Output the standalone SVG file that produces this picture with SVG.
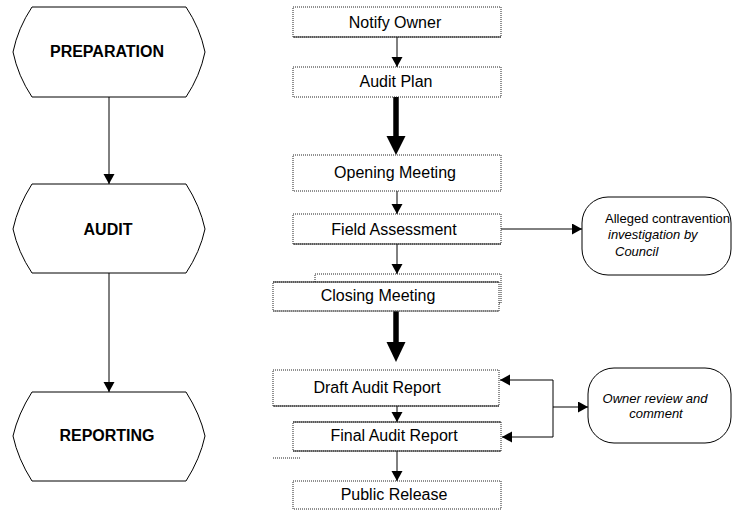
<svg xmlns="http://www.w3.org/2000/svg" width="734" height="510" viewBox="0 0 734 510">
<style>
.hex{fill:#fff;stroke:#000;stroke-width:1}
.box{fill:#fff;stroke:#222;stroke-width:1;stroke-dasharray:1,1}
.sol{stroke:#222;stroke-width:1;fill:none}
.t{font-family:"Liberation Sans",Arial,sans-serif;font-size:16px;fill:#000;text-anchor:middle}
.b{font-weight:bold}
.s{font-family:"Liberation Sans",Arial,sans-serif;font-size:13px;fill:#000}
.i{font-style:italic}
.ln{stroke:#000;stroke-width:1;fill:none}
.thick{stroke:#000;stroke-width:5.5;fill:none}
.head{fill:#000;stroke:none}
.co{fill:#fff;stroke:#000;stroke-width:1}
</style>
<defs>
<marker id="ah" markerUnits="userSpaceOnUse" markerWidth="12" markerHeight="12" refX="10" refY="5.5" orient="auto">
<path d="M0,0 L10,5.5 L0,11 Z" fill="#000"/>
</marker>
</defs>

<g id="connectors">
<line class="ln" x1="109" y1="97" x2="109" y2="184" marker-end="url(#ah)"/>
<line class="ln" x1="109" y1="273" x2="109" y2="392" marker-end="url(#ah)"/>
<line class="ln" x1="397" y1="37" x2="397" y2="67" marker-end="url(#ah)"/>
<line class="thick" x1="396" y1="97" x2="396" y2="138"/>
<polygon class="head" points="386.5,136 405.5,136 396,155"/>
<line class="ln" x1="397" y1="191" x2="397" y2="214" marker-end="url(#ah)"/>
<line class="ln" x1="397" y1="244" x2="397" y2="274" marker-end="url(#ah)"/>
<line class="thick" x1="396" y1="303" x2="396" y2="345"/>
<polygon class="head" points="386.5,342 405.5,342 396,362"/>
<line class="ln" x1="397" y1="406" x2="397" y2="422" marker-end="url(#ah)"/>
<line class="ln" x1="397" y1="451" x2="397" y2="481" marker-end="url(#ah)"/>
<line class="ln" x1="501" y1="229" x2="582" y2="229" marker-end="url(#ah)"/>
<polyline class="ln" points="553,380 553,437"/>
<line class="ln" x1="553" y1="380" x2="500" y2="380" marker-end="url(#ah)"/>
<line class="ln" x1="553" y1="437" x2="502" y2="437" marker-end="url(#ah)"/>
<line class="ln" x1="553" y1="407" x2="588" y2="407" marker-end="url(#ah)"/>
<line class="box" x1="273" y1="458" x2="301" y2="458"/>
</g>

<g id="preparation">
<path class="hex" d="M32,7 L186,7 Q200,28 205,52 Q200,76 186,97 L32,97 Q18,76 13,52 Q18,28 32,7 Z"/>
<text class="t b" x="107" y="57">PREPARATION</text>
</g>
<g id="audit">
<path class="hex" d="M32,184 L186,184 Q200,206 205,229 Q200,252 186,273 L32,273 Q18,252 13,229 Q18,206 32,184 Z"/>
<text class="t b" x="108" y="235">AUDIT</text>
</g>
<g id="reporting">
<path class="hex" d="M32,392 L186,392 Q200,414 205,436 Q200,459 186,481 L32,481 Q18,459 13,436 Q18,414 32,392 Z"/>
<text class="t b" x="107" y="441">REPORTING</text>
</g>

<g id="notify-owner">
<rect class="box" x="293" y="7" width="208" height="30"/>
<line class="sol" x1="293" y1="37" x2="501" y2="37"/>
<text class="t" x="395" y="28">Notify Owner</text>
</g>
<g id="audit-plan">
<rect class="box" x="293" y="67" width="208" height="30"/>
<text class="t" x="396" y="87">Audit Plan</text>
</g>
<g id="opening-meeting">
<rect class="box" x="293" y="155" width="208" height="36"/>
<text class="t" x="395" y="178">Opening Meeting</text>
</g>
<g id="field-assessment">
<rect class="box" x="293" y="214" width="208" height="30"/>
<line class="sol" x1="293" y1="244" x2="501" y2="244"/>
<text class="t" x="394" y="235">Field Assessment</text>
</g>
<g id="closing-meeting">
<rect class="box" x="315" y="274" width="186" height="29"/>
<rect class="box" x="273" y="282" width="226" height="29"/>
<line class="sol" x1="273" y1="282" x2="499" y2="282"/>
<line class="sol" x1="273" y1="311" x2="499" y2="311" style="stroke:#666"/>
<text class="t" x="378" y="301">Closing Meeting</text>
</g>
<g id="draft-audit-report">
<rect class="box" x="273" y="370" width="226" height="36"/>
<line class="sol" x1="273" y1="406" x2="499" y2="406"/>
<text class="t" x="377" y="393">Draft Audit Report</text>
</g>
<g id="final-audit-report">
<rect class="box" x="293" y="422" width="208" height="29"/>
<line class="sol" x1="293" y1="422" x2="501" y2="422"/>
<line class="sol" x1="293" y1="451" x2="501" y2="451"/>
<text class="t" x="394" y="441">Final Audit Report</text>
</g>
<g id="public-release">
<rect class="box" x="293" y="481" width="208" height="28"/>
<text class="t" x="394" y="500">Public Release</text>
</g>

<g id="alleged-contravention">
<rect class="co" x="582" y="197" width="149" height="78" rx="26" ry="26"/>
<text class="s" x="605" y="223">Alleged contravention</text>
<text class="s i" x="608" y="239">investigation by</text>
<text class="s i" x="615" y="256">Council</text>
</g>
<g id="owner-review">
<rect class="co" x="588" y="368" width="143" height="75" rx="26" ry="26"/>
<text class="s i" x="655" y="403" text-anchor="middle">Owner review and</text>
<text class="s i" x="656" y="418" text-anchor="middle">comment</text>
</g>
</svg>
